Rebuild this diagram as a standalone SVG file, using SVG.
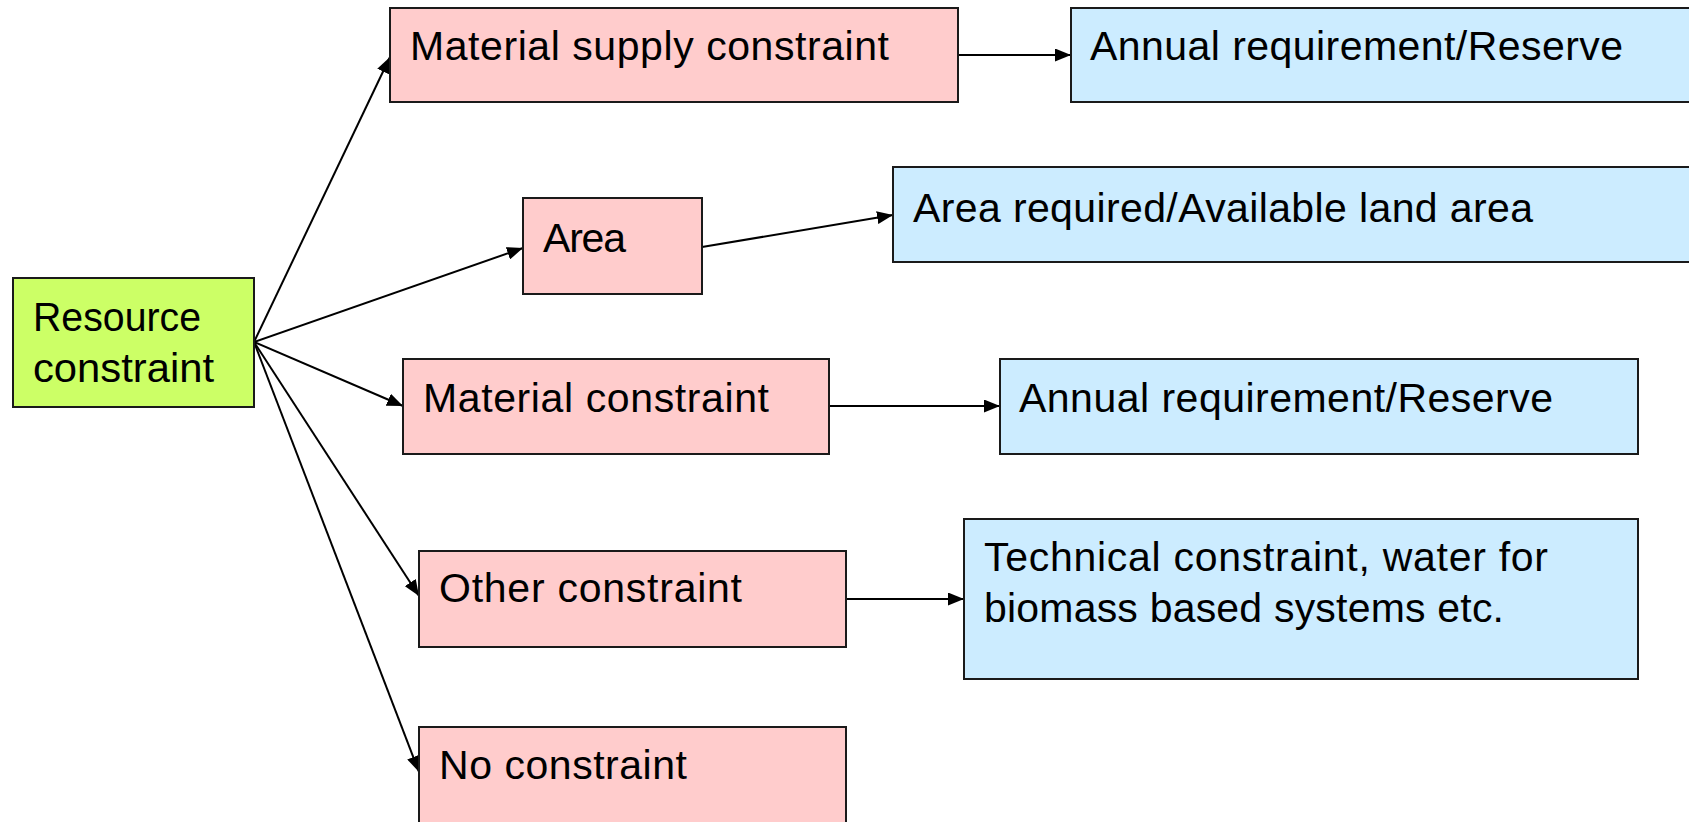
<svg xmlns="http://www.w3.org/2000/svg" width="1689" height="822" viewBox="0 0 1689 822">
  <style>
    .box { stroke: #1a1a1a; stroke-width: 2; }
    .root { fill: #CCFF66; }
    .mid { fill: #FFCCCC; }
    .leaf { fill: #CCECFF; }
    .lbl { font-family: "Liberation Sans", Arial, sans-serif; font-size: 41px; fill: #000; }
    .conn { stroke: #000; stroke-width: 2; fill: none; marker-end: url(#arrow); }
  </style>
  <defs>
    <marker id="arrow" markerUnits="userSpaceOnUse" markerWidth="17" markerHeight="13" refX="16" refY="6.5" orient="auto">
      <path d="M0,0 L16,6.5 L0,13 Z" fill="#000"/>
    </marker>
  </defs>
  <rect width="1689" height="822" fill="#fff"/>

  <g id="connectors">
    <line class="conn" x1="254" y1="342" x2="390" y2="57"/>
    <line class="conn" x1="254" y1="342" x2="523" y2="248"/>
    <line class="conn" x1="254" y1="342" x2="403" y2="406"/>
    <line class="conn" x1="254" y1="342" x2="419" y2="596"/>
    <line class="conn" x1="254" y1="342" x2="419" y2="772"/>
    <line class="conn" x1="958" y1="55" x2="1071" y2="55"/>
    <line class="conn" x1="702" y1="247" x2="893" y2="215"/>
    <line class="conn" x1="829" y1="406" x2="1000" y2="406"/>
    <line class="conn" x1="846" y1="599" x2="964" y2="599"/>
  </g>

  <g id="resource-constraint">
    <rect class="box root" x="13" y="278" width="241" height="129"/>
    <text class="lbl" x="33" y="331" textLength="168" lengthAdjust="spacingAndGlyphs">Resource</text>
    <text class="lbl" x="33" y="382" textLength="181" lengthAdjust="spacingAndGlyphs">constraint</text>
  </g>

  <g id="material-supply-constraint">
    <rect class="box mid" x="390" y="8" width="568" height="94"/>
    <text class="lbl" x="410" y="60" textLength="479" lengthAdjust="spacing">Material supply constraint</text>
  </g>

  <g id="annual-requirement-1">
    <rect class="box leaf" x="1071" y="8" width="700" height="94"/>
    <text class="lbl" x="1090" y="60" textLength="533" lengthAdjust="spacing">Annual requirement/Reserve</text>
  </g>

  <g id="area">
    <rect class="box mid" x="523" y="198" width="179" height="96"/>
    <text class="lbl" x="543" y="252" textLength="83" lengthAdjust="spacing">Area</text>
  </g>

  <g id="area-required">
    <rect class="box leaf" x="893" y="167" width="900" height="95"/>
    <text class="lbl" x="913" y="222" textLength="620" lengthAdjust="spacing">Area required/Available land area</text>
  </g>

  <g id="material-constraint">
    <rect class="box mid" x="403" y="359" width="426" height="95"/>
    <text class="lbl" x="423" y="412" textLength="346" lengthAdjust="spacing">Material constraint</text>
  </g>

  <g id="annual-requirement-2">
    <rect class="box leaf" x="1000" y="359" width="638" height="95"/>
    <text class="lbl" x="1019" y="412" textLength="534" lengthAdjust="spacing">Annual requirement/Reserve</text>
  </g>

  <g id="other-constraint">
    <rect class="box mid" x="419" y="551" width="427" height="96"/>
    <text class="lbl" x="439" y="602" textLength="303" lengthAdjust="spacing">Other constraint</text>
  </g>

  <g id="technical-constraint">
    <rect class="box leaf" x="964" y="519" width="674" height="160"/>
    <text class="lbl" x="984" y="571" textLength="564" lengthAdjust="spacing">Technical constraint, water for</text>
    <text class="lbl" x="984" y="622" textLength="520" lengthAdjust="spacing">biomass based systems etc.</text>
  </g>

  <g id="no-constraint">
    <rect class="box mid" x="419" y="727" width="427" height="120"/>
    <text class="lbl" x="439" y="779" textLength="248" lengthAdjust="spacing">No constraint</text>
  </g>
</svg>
